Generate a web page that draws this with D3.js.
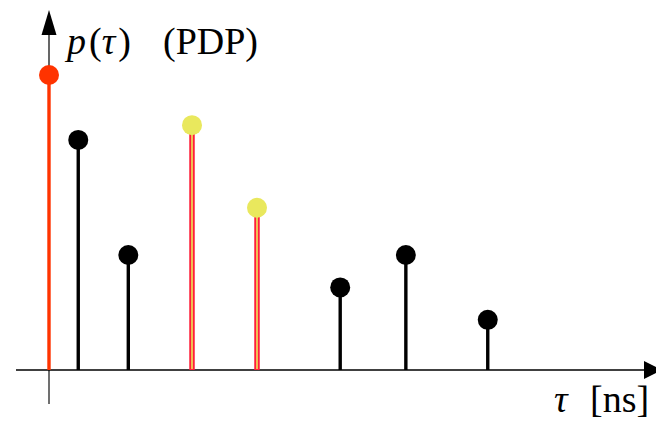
<!DOCTYPE html>
<html>
<head>
<meta charset="utf-8">
<script src="https://cdn.jsdelivr.net/npm/d3@7"></script>
<style>
  html, body { margin: 0; padding: 0; background: #fff; }
  svg { display: block; }
  text { font-family: "Liberation Serif", "Times New Roman", serif; fill: #000; }
</style>
</head>
<body>
<svg id="chart"></svg>
<script>
// Задержки путей (нс) и относительная мощность (PDP)
const delays = [0, 0.45, 1.22, 2.2, 3.2, 4.48, 5.49, 6.75];
const powers = [1.0, 0.78, 0.39, 0.83, 0.55, 0.28, 0.39, 0.17];
// Тип отсчёта: first - первый путь, marked - выделенные, normal - обычные
const kinds = ["first", "normal", "normal", "marked", "marked", "normal", "normal", "normal"];

const width = 656;
const height = 422;

const svg = d3.select("#chart")
    .attr("width", width)
    .attr("height", height);

const x = d3.scaleLinear().domain([0, 1]).range([49, 114]);
const y = d3.scaleLinear().domain([0, 1]).range([370, 75]);

const data = delays.map((d, i) => ({ tau: d, p: powers[i], kind: kinds[i] }));

// Горизонтальная ось
svg.append("line")
    .attr("x1", 16).attr("x2", 646)
    .attr("y1", y(0)).attr("y2", y(0))
    .attr("stroke", "#000").attr("stroke-width", 1.5);
svg.append("path")
    .attr("d", `M644,${y(0) - 9} L662,${y(0)} L644,${y(0) + 9} Z`)
    .attr("fill", "#000");

// Вертикальная ось
svg.append("line")
    .attr("x1", x(0)).attr("x2", x(0))
    .attr("y1", 404).attr("y2", 30)
    .attr("stroke", "#000").attr("stroke-width", 1.2);
svg.append("line")
    .attr("x1", x(0)).attr("x2", x(0))
    .attr("y1", 372).attr("y2", 404)
    .attr("stroke", "#777").attr("stroke-width", 1.2);
svg.append("path")
    .attr("d", `M${x(0)},10 L${x(0) + 7.5},35 L${x(0) - 7.5},35 Z`)
    .attr("fill", "#000");

// Стебли
const stems = svg.append("g");
data.forEach(d => {
    const sx = x(d.tau);
    if (d.kind === "marked") {
        stems.append("line")
            .attr("x1", sx).attr("x2", sx)
            .attr("y1", y(0)).attr("y2", y(d.p))
            .attr("stroke", "#ff1f3a").attr("stroke-width", 5.5);
        stems.append("line")
            .attr("x1", sx).attr("x2", sx)
            .attr("y1", y(0) - 1).attr("y2", y(d.p))
            .attr("stroke", "#ece85a").attr("stroke-width", 1.6);
    } else {
        stems.append("line")
            .attr("x1", sx).attr("x2", sx)
            .attr("y1", y(0)).attr("y2", y(d.p))
            .attr("stroke", d.kind === "first" ? "#ff3300" : "#000")
            .attr("stroke-width", 3.4);
    }
});

// Точки
svg.append("g").selectAll("circle")
    .data(data)
    .join("circle")
    .attr("cx", d => x(d.tau))
    .attr("cy", d => y(d.p))
    .attr("r", 10)
    .attr("fill", d => d.kind === "first" ? "#ff3300" : d.kind === "marked" ? "#e9e85d" : "#000");

// Подписи
const yl = svg.append("text")
    .attr("x", 67).attr("y", 54)
    .attr("font-size", 38);
yl.append("tspan").attr("font-style", "italic").text("p");
yl.append("tspan").attr("dx", 3).text("(");
yl.append("tspan").attr("font-style", "italic").text("τ");
yl.append("tspan").attr("dx", 3).text(")");

svg.append("text")
    .attr("x", 163).attr("y", 54)
    .attr("font-size", 38)
    .text("(PDP)");

svg.append("text")
    .attr("x", 554).attr("y", 412)
    .attr("font-size", 38)
    .attr("font-style", "italic")
    .text("τ");
svg.append("text")
    .attr("x", 590).attr("y", 412)
    .attr("font-size", 38)
    .text("[ns]");
</script>
</body>
</html>
